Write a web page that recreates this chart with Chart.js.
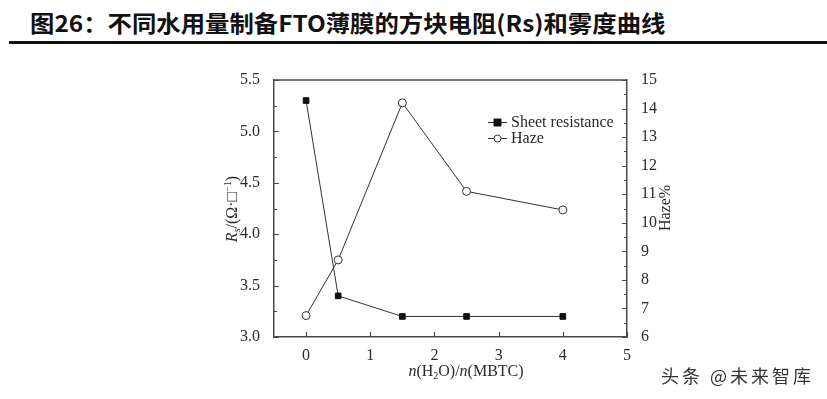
<!DOCTYPE html>
<html>
<head>
<meta charset="utf-8">
<script src="https://cdn.jsdelivr.net/npm/chart.js@4.4.0/dist/chart.umd.min.js"></script>
<style>
  body{margin:0;background:#fff;width:827px;height:399px;overflow:hidden;position:relative;}
  #title{position:absolute;left:30px;top:7px;font-family:"Noto Sans CJK SC","Noto Sans",sans-serif;font-weight:bold;font-size:23px;color:#111;white-space:nowrap;line-height:30px;transform:scaleX(1.06);transform-origin:0 0;}
  #rule{position:absolute;left:9px;top:41px;width:818px;height:3px;background:#111;}
  #mark{position:absolute;left:661px;top:362px;font-family:"Noto Sans CJK SC",sans-serif;font-size:18px;letter-spacing:3px;color:#333;white-space:nowrap;text-shadow:1px 1px 0 #fff;}
  #chart{position:absolute;left:0;top:0;}
</style>
</head>
<body>
<div id="title">图26：不同水用量制备FTO薄膜的方块电阻(Rs)和雾度曲线</div>
<div id="rule"></div>
<canvas id="chart" width="827" height="399"></canvas>
<div id="mark">头条 @未来智库</div>
<script>
//data
const ratio = [0, 0.5, 1.5, 2.5, 4];
const sheetRes = [5.3, 3.4, 3.2, 3.2, 3.2];
const haze = [6.75, 8.7, 14.2, 11.1, 10.45];
const xTicks = [0, 1, 2, 3, 4, 5];

const serif = '"Liberation Serif","DejaVu Serif",serif';
const ink = '#2a2a2a';
const frame = '#4a4a4a';

function pts(xs, ys){
	return xs.map(function(x, i){ return {x: x, y: ys[i]}; });
}

//draws a line of text made of pieces with different fonts, centred on (cx,cy)
function drawRich(ctx, parts, cx, cy){
	let total = 0;
	parts.forEach(function(p){ ctx.font = p.font; total += ctx.measureText(p.t).width; });
	let x = cx - total / 2;
	ctx.textAlign = 'left';
	ctx.textBaseline = 'middle';
	parts.forEach(function(p){
		ctx.font = p.font;
		ctx.fillText(p.t, x, cy + (p.dy || 0));
		x += ctx.measureText(p.t).width;
	});
}

const extras = {
	id: 'extras',
	afterDraw: function(chart){
		const ctx = chart.ctx;
		const a = chart.chartArea;
		const sx = chart.scales.x, sy = chart.scales.y, sy2 = chart.scales.y2;
		ctx.save();
		ctx.strokeStyle = frame;
		ctx.lineWidth = 1.5;
		ctx.beginPath();
		ctx.moveTo(a.left, a.top);
		ctx.lineTo(a.right, a.top);
		ctx.stroke();

		// inward ticks
		ctx.lineWidth = 1.2;
		ctx.beginPath();
		for(let v = 3; v <= 5.5001; v += 0.25){
			const y = Math.round(sy.getPixelForValue(v)) + 0.5;
			const len = (Math.abs(v * 2 - Math.round(v * 2)) < 1e-6) ? 5 : 3;
			ctx.moveTo(a.left, y); ctx.lineTo(a.left + len, y);
		}
		for(let v = 6; v <= 15.001; v += 0.5){
			const y = Math.round(sy2.getPixelForValue(v)) + 0.5;
			const len = (Math.abs(v - Math.round(v)) < 1e-6) ? 5 : 3;
			ctx.moveTo(a.right, y); ctx.lineTo(a.right - len, y);
		}
		xTicks.forEach(function(v){
			const x = Math.round(sx.getPixelForValue(v)) + 0.5;
			ctx.moveTo(x, a.bottom); ctx.lineTo(x, a.bottom - 5);
		});
		ctx.stroke();

		ctx.fillStyle = ink;
		// left axis title
		ctx.save();
		ctx.translate(233, 209);
		ctx.rotate(-Math.PI / 2);
		drawRich(ctx, [
			{t: 'R', font: 'italic 16px ' + serif},
			{t: 's', font: 'italic 10px ' + serif, dy: 4},
			{t: '/(Ω·□', font: '16px ' + serif},
			{t: '−1', font: '10px ' + serif, dy: -5},
			{t: ')', font: '16px ' + serif}
		], 0, 0);
		ctx.restore();

		// right axis title
		ctx.save();
		ctx.translate(666, 208);
		ctx.rotate(-Math.PI / 2);
		drawRich(ctx, [{t: 'Haze%', font: '16px ' + serif}], 0, 0);
		ctx.restore();

		// x axis title
		drawRich(ctx, [
			{t: 'n', font: 'italic 16px ' + serif},
			{t: '(H', font: '16px ' + serif},
			{t: '2', font: '10px ' + serif, dy: 4},
			{t: 'O)/', font: '16px ' + serif},
			{t: 'n', font: 'italic 16px ' + serif},
			{t: '(MBTC)', font: '16px ' + serif}
		], 466, 372);

		// legend
		const rows = [{label: 'Sheet resistance', y: 122, ds: 0}, {label: 'Haze', y: 138, ds: 1}];
		rows.forEach(function(r){
			const ds = chart.data.datasets[r.ds];
			ctx.strokeStyle = ds.borderColor;
			ctx.lineWidth = 1;
			ctx.beginPath();
			ctx.moveTo(488, r.y + 0.5); ctx.lineTo(507, r.y + 0.5);
			ctx.stroke();
			ctx.fillStyle = ds.pointBackgroundColor;
			ctx.strokeStyle = ds.pointBorderColor;
			ctx.beginPath();
			if(ds.pointStyle === 'rect'){
				ctx.rect(494, r.y - 3, 7, 7);
			}else{
				ctx.arc(497.5, r.y + 0.5, 3.5, 0, Math.PI * 2);
			}
			ctx.fill(); ctx.stroke();
			ctx.fillStyle = ink;
			ctx.font = '16px ' + serif;
			ctx.textAlign = 'left';
			ctx.textBaseline = 'middle';
			ctx.fillText(r.label, 511, r.y + 1);
		});
		ctx.restore();
	}
};

const tickFont = {family: serif, size: 16};

const chart = new Chart(document.getElementById('chart'), {
	type: 'line',
	data: {
		datasets: [{
			data: pts(ratio, sheetRes),
			yAxisID: 'y',
			borderColor: '#333',
			borderWidth: 1,
			pointStyle: 'rect',
			pointRadius: 4,
			pointBackgroundColor: '#111',
			pointBorderColor: '#111',
			pointBorderWidth: 1
		}, {
			data: pts(ratio, haze),
			yAxisID: 'y2',
			borderColor: '#333',
			borderWidth: 1,
			pointStyle: 'circle',
			pointRadius: 4,
			pointBackgroundColor: '#fff',
			pointBorderColor: '#333',
			pointBorderWidth: 1
		}]
	},
	options: {
		responsive: false,
		animation: false,
		events: [],
		layout: {padding: {top: 80, left: 0, right: 0, bottom: 0}},
		plugins: {legend: {display: false}, tooltip: {enabled: false}},
		scales: {
			x: {
				type: 'linear', min: -0.5, max: 5,
				grid: {display: false},
				border: {color: frame, width: 1.5},
				afterBuildTicks: function(s){ s.ticks = xTicks.map(function(v){ return {value: v}; }); },
				afterFit: function(s){ s.height = 62; },
				ticks: {font: tickFont, color: ink, padding: 1, maxRotation: 0}
			},
			y: {
				position: 'left', min: 3, max: 5.5,
				grid: {display: false},
				border: {color: frame, width: 1.5},
				afterFit: function(s){ s.width = 274; },
				ticks: {stepSize: 0.5, font: tickFont, color: ink, padding: 6,
					callback: function(v){ return v.toFixed(1); }}
			},
			y2: {
				position: 'right', min: 6, max: 15,
				grid: {display: false},
				border: {color: frame, width: 1.5},
				afterFit: function(s){ s.width = 200; },
				ticks: {stepSize: 1, font: tickFont, color: ink, padding: 6}
			}
		}
	},
	plugins: [extras]
});
</script>
</body>
</html>
